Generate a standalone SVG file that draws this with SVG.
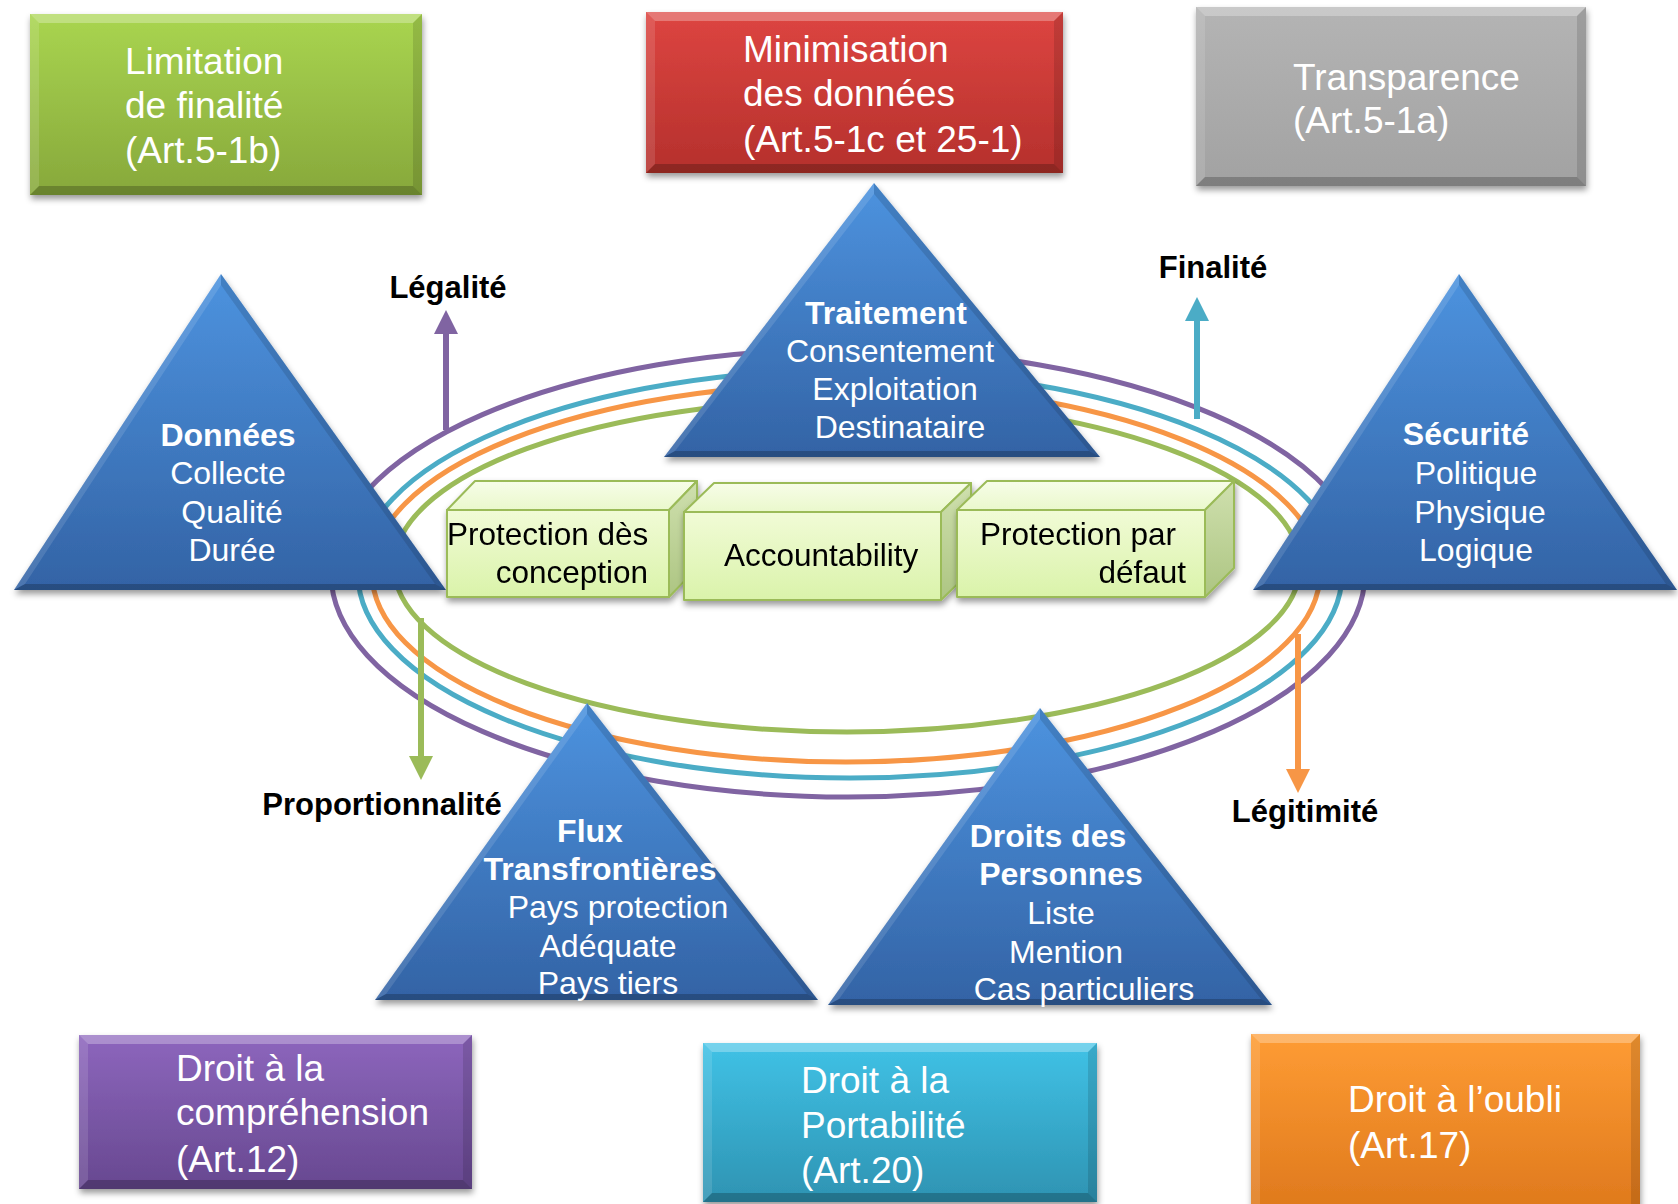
<svg xmlns="http://www.w3.org/2000/svg" width="1678" height="1204" viewBox="0 0 1678 1204">
<style>
  text { font-family: "Liberation Sans", Arial, sans-serif; }
  .bx { font-size: 37px; fill: #ffffff; }
  .tri { font-size: 32px; fill: #ffffff; text-anchor: middle; }
  .b { font-weight: bold; }
  .lbl { font-size: 31px; font-weight: bold; fill: #000000; text-anchor: middle; }
  .cube { font-size: 31.5px; fill: #000000; }
  .ring { fill: none; stroke-width: 5; }
  .hi { fill: #ffffff; fill-opacity: 0.28; }
  .hi2 { fill: #ffffff; fill-opacity: 0.12; }
  .lo { fill: #000000; fill-opacity: 0.22; }
  .lo2 { fill: #000000; fill-opacity: 0.12; }
  .face { stroke: #9BBB59; stroke-width: 2; stroke-linejoin: round; }
</style>
<defs>
  <filter id="sh" x="-10%" y="-10%" width="120%" height="130%">
    <feDropShadow dx="1" dy="4" stdDeviation="3" flood-color="#000" flood-opacity="0.4"/>
  </filter>
  <linearGradient id="gTri" x1="0" y1="0" x2="0" y2="1">
    <stop offset="0" stop-color="#4D93DF"/>
    <stop offset="1" stop-color="#3363A5"/>
  </linearGradient>
  <linearGradient id="gGreen" x1="0" y1="0" x2="0" y2="1">
    <stop offset="0" stop-color="#A9D550"/>
    <stop offset="1" stop-color="#87A83B"/>
  </linearGradient>
  <linearGradient id="gRed" x1="0" y1="0" x2="0" y2="1">
    <stop offset="0" stop-color="#DD4541"/>
    <stop offset="1" stop-color="#B5302C"/>
  </linearGradient>
  <linearGradient id="gGray" x1="0" y1="0" x2="0" y2="1">
    <stop offset="0" stop-color="#B4B4B4"/>
    <stop offset="1" stop-color="#A2A2A2"/>
  </linearGradient>
  <linearGradient id="gPurple" x1="0" y1="0" x2="0" y2="1">
    <stop offset="0" stop-color="#8D66BD"/>
    <stop offset="1" stop-color="#674890"/>
  </linearGradient>
  <linearGradient id="gCyan" x1="0" y1="0" x2="0" y2="1">
    <stop offset="0" stop-color="#40C2E6"/>
    <stop offset="1" stop-color="#2E93B2"/>
  </linearGradient>
  <linearGradient id="gOrange" x1="0" y1="0" x2="0" y2="1">
    <stop offset="0" stop-color="#FE9C34"/>
    <stop offset="1" stop-color="#DE781C"/>
  </linearGradient>
  <linearGradient id="gFront" x1="0" y1="0" x2="0" y2="1">
    <stop offset="0" stop-color="#F1FBD6"/>
    <stop offset="1" stop-color="#DAF3AA"/>
  </linearGradient>
  <linearGradient id="gTop" x1="0" y1="0" x2="0" y2="1">
    <stop offset="0" stop-color="#F7FDE8"/>
    <stop offset="1" stop-color="#EAF8CC"/>
  </linearGradient>
  <linearGradient id="gSide" x1="0" y1="0" x2="0" y2="1">
    <stop offset="0" stop-color="#CFE0AE"/>
    <stop offset="1" stop-color="#ADC582"/>
  </linearGradient>
  <marker id="mPurple" viewBox="0 0 24 24" markerWidth="24" markerHeight="24" refX="0" refY="12" orient="auto" markerUnits="userSpaceOnUse"><path d="M0,0 L24,12 L0,24 Z" fill="#8064A2"/></marker>
  <marker id="mCyan" viewBox="0 0 24 24" markerWidth="24" markerHeight="24" refX="0" refY="12" orient="auto" markerUnits="userSpaceOnUse"><path d="M0,0 L24,12 L0,24 Z" fill="#4BACC6"/></marker>
  <marker id="mGreen" viewBox="0 0 24 24" markerWidth="24" markerHeight="24" refX="0" refY="12" orient="auto" markerUnits="userSpaceOnUse"><path d="M0,0 L24,12 L0,24 Z" fill="#9BBB59"/></marker>
  <marker id="mOrange" viewBox="0 0 24 24" markerWidth="24" markerHeight="24" refX="0" refY="12" orient="auto" markerUnits="userSpaceOnUse"><path d="M0,0 L24,12 L0,24 Z" fill="#F79646"/></marker>
</defs>
<rect x="0" y="0" width="1678" height="1204" fill="#ffffff"/>

<!-- rings and arrows -->
<g id="connectors">
  <ellipse class="ring" cx="848" cy="573" rx="517" ry="224" stroke="#8064A2"/>
  <ellipse class="ring" cx="850" cy="574" rx="492" ry="204" stroke="#4BACC6"/>
  <ellipse class="ring" cx="846" cy="573" rx="474" ry="189" stroke="#F79646"/>
  <ellipse class="ring" cx="847" cy="566" rx="453" ry="166" stroke="#9BBB59"/>
  <line x1="446" y1="430" x2="446" y2="334" stroke="#8064A2" stroke-width="6" marker-end="url(#mPurple)"/>
  <line x1="1197" y1="419" x2="1197" y2="321" stroke="#4BACC6" stroke-width="6" marker-end="url(#mCyan)"/>
  <line x1="421" y1="618" x2="421" y2="756" stroke="#9BBB59" stroke-width="6" marker-end="url(#mGreen)"/>
  <line x1="1298" y1="634" x2="1298" y2="769" stroke="#F79646" stroke-width="6" marker-end="url(#mOrange)"/>
  <text class="lbl" x="448" y="298">Légalité</text>
  <text class="lbl" x="1213" y="278">Finalité</text>
  <text class="lbl" x="382" y="815">Proportionnalité</text>
  <text class="lbl" x="1305" y="822">Légitimité</text>
</g>

<!-- top boxes -->
<g id="limitation">
  <rect x="30" y="14" width="392" height="181" fill="url(#gGreen)" filter="url(#sh)"/>
  <path class="hi" d="M30,14 L422,14 L413,23 L39,23 Z"/>
  <path class="hi2" d="M30,14 L39,23 L39,186 L30,195 Z"/>
  <path class="lo" d="M30,195 L39,186 L413,186 L422,195 Z"/>
  <path class="lo2" d="M422,14 L422,195 L413,186 L413,23 Z"/>
  <text class="bx" x="125" y="74">Limitation</text>
  <text class="bx" x="125" y="118">de finalité</text>
  <text class="bx" x="125" y="163">(Art.5-1b)</text>
</g>
<g id="minimisation">
  <rect x="646" y="12" width="417" height="161" fill="url(#gRed)" filter="url(#sh)"/>
  <path class="hi" d="M646,12 L1063,12 L1054,21 L655,21 Z"/>
  <path class="hi2" d="M646,12 L655,21 L655,164 L646,173 Z"/>
  <path class="lo" d="M646,173 L655,164 L1054,164 L1063,173 Z"/>
  <path class="lo2" d="M1063,12 L1063,173 L1054,164 L1054,21 Z"/>
  <text class="bx" x="743" y="62">Minimisation</text>
  <text class="bx" x="743" y="106">des données</text>
  <text class="bx" x="743" y="152">(Art.5-1c et 25-1)</text>
</g>
<g id="transparence">
  <rect x="1196" y="7" width="390" height="179" fill="url(#gGray)" filter="url(#sh)"/>
  <path class="hi" d="M1196,7 L1586,7 L1577,16 L1205,16 Z"/>
  <path class="hi2" d="M1196,7 L1205,16 L1205,177 L1196,186 Z"/>
  <path class="lo" d="M1196,186 L1205,177 L1577,177 L1586,186 Z"/>
  <path class="lo2" d="M1586,7 L1586,186 L1577,177 L1577,16 Z"/>
  <text class="bx" x="1293" y="90">Transparence</text>
  <text class="bx" x="1293" y="133">(Art.5-1a)</text>
</g>

<!-- bottom boxes -->
<g id="comprehension">
  <rect x="79" y="1035" width="393" height="154" fill="url(#gPurple)" filter="url(#sh)"/>
  <path class="hi" d="M79,1035 L472,1035 L463,1044 L88,1044 Z"/>
  <path class="hi2" d="M79,1035 L88,1044 L88,1180 L79,1189 Z"/>
  <path class="lo" d="M79,1189 L88,1180 L463,1180 L472,1189 Z"/>
  <path class="lo2" d="M472,1035 L472,1189 L463,1180 L463,1044 Z"/>
  <text class="bx" x="176" y="1081">Droit à la</text>
  <text class="bx" x="176" y="1125">compréhension</text>
  <text class="bx" x="176" y="1172">(Art.12)</text>
</g>
<g id="portabilite">
  <rect x="703" y="1043" width="394" height="159" fill="url(#gCyan)" filter="url(#sh)"/>
  <path class="hi" d="M703,1043 L1097,1043 L1088,1052 L712,1052 Z"/>
  <path class="hi2" d="M703,1043 L712,1052 L712,1193 L703,1202 Z"/>
  <path class="lo" d="M703,1202 L712,1193 L1088,1193 L1097,1202 Z"/>
  <path class="lo2" d="M1097,1043 L1097,1202 L1088,1193 L1088,1052 Z"/>
  <text class="bx" x="801" y="1093">Droit à la</text>
  <text class="bx" x="801" y="1138">Portabilité</text>
  <text class="bx" x="801" y="1183">(Art.20)</text>
</g>
<g id="oubli">
  <rect x="1251" y="1034" width="389" height="180" fill="url(#gOrange)" filter="url(#sh)"/>
  <path class="hi" d="M1251,1034 L1640,1034 L1631,1043 L1260,1043 Z"/>
  <path class="hi2" d="M1251,1034 L1260,1043 L1260,1214 L1251,1214 Z"/>
  <path class="lo2" d="M1640,1034 L1640,1214 L1631,1214 L1631,1043 Z"/>
  <text class="bx" x="1348" y="1112">Droit à l’oubli</text>
  <text class="bx" x="1348" y="1158">(Art.17)</text>
</g>

<!-- triangles -->
<g id="donnees">
  <path d="M221,274 L446,590 L14,590 Z" fill="url(#gTri)" filter="url(#sh)"/>
  <path class="hi2" d="M221,274 L14,590 L25,584 L221,285 Z"/>
  <path class="lo2" d="M221,274 L446,590 L435,584 L221,285 Z"/>
  <path class="lo" d="M14,590 L446,590 L435,584 L25,584 Z"/>
  <text class="tri b" x="228" y="446">Données</text>
  <text class="tri" x="228" y="484">Collecte</text>
  <text class="tri" x="232" y="523">Qualité</text>
  <text class="tri" x="232" y="561">Durée</text>
</g>
<g id="traitement">
  <path d="M874,183 L1100,457 L664,457 Z" fill="url(#gTri)" filter="url(#sh)"/>
  <path class="hi2" d="M874,183 L664,457 L675,451 L874,194 Z"/>
  <path class="lo2" d="M874,183 L1100,457 L1089,451 L874,194 Z"/>
  <path class="lo" d="M664,457 L1100,457 L1089,451 L675,451 Z"/>
  <text class="tri b" x="886" y="324">Traitement</text>
  <text class="tri" x="890" y="362">Consentement</text>
  <text class="tri" x="895" y="400">Exploitation</text>
  <text class="tri" x="900" y="438">Destinataire</text>
</g>
<g id="securite">
  <path d="M1459,274 L1677,590 L1253,590 Z" fill="url(#gTri)" filter="url(#sh)"/>
  <path class="hi2" d="M1459,274 L1253,590 L1264,584 L1459,285 Z"/>
  <path class="lo2" d="M1459,274 L1677,590 L1666,584 L1459,285 Z"/>
  <path class="lo" d="M1253,590 L1677,590 L1666,584 L1264,584 Z"/>
  <text class="tri b" x="1466" y="445">Sécurité</text>
  <text class="tri" x="1476" y="484">Politique</text>
  <text class="tri" x="1480" y="523">Physique</text>
  <text class="tri" x="1476" y="561">Logique</text>
</g>
<g id="flux">
  <path d="M587,703 L818,1000 L375,1000 Z" fill="url(#gTri)" filter="url(#sh)"/>
  <path class="hi2" d="M587,703 L375,1000 L386,994 L587,714 Z"/>
  <path class="lo2" d="M587,703 L818,1000 L807,994 L587,714 Z"/>
  <path class="lo" d="M375,1000 L818,1000 L807,994 L386,994 Z"/>
  <text class="tri b" x="590" y="842">Flux</text>
  <text class="tri b" x="600" y="880">Transfrontières</text>
  <text class="tri" x="618" y="918">Pays protection</text>
  <text class="tri" x="608" y="957">Adéquate</text>
  <text class="tri" x="608" y="994">Pays tiers</text>
</g>
<g id="droits">
  <path d="M1040,708 L1272,1005 L828,1005 Z" fill="url(#gTri)" filter="url(#sh)"/>
  <path class="hi2" d="M1040,708 L828,1005 L839,999 L1040,719 Z"/>
  <path class="lo2" d="M1040,708 L1272,1005 L1261,999 L1040,719 Z"/>
  <path class="lo" d="M828,1005 L1272,1005 L1261,999 L839,999 Z"/>
  <text class="tri b" x="1048" y="847">Droits des</text>
  <text class="tri b" x="1061" y="885">Personnes</text>
  <text class="tri" x="1061" y="924">Liste</text>
  <text class="tri" x="1066" y="963">Mention</text>
  <text class="tri" x="1084" y="1000">Cas particuliers</text>
</g>

<!-- 3D boxes -->
<g id="protection-conception" filter="url(#sh)">
  <path class="face" d="M447,510 L475,481 L697,481 L669,510 Z" fill="url(#gTop)"/>
  <path class="face" d="M669,510 L697,481 L697,568 L669,597 Z" fill="url(#gSide)"/>
  <rect class="face" x="447" y="510" width="222" height="87" fill="url(#gFront)"/>
  <text class="cube" x="447" y="545">Protection dès</text>
  <text class="cube" x="648" y="583" text-anchor="end">conception</text>
</g>
<g id="accountability" filter="url(#sh)">
  <path class="face" d="M684,512 L714,483 L971,483 L941,512 Z" fill="url(#gTop)"/>
  <path class="face" d="M941,512 L971,483 L971,571 L941,600 Z" fill="url(#gSide)"/>
  <rect class="face" x="684" y="512" width="257" height="88" fill="url(#gFront)"/>
  <text class="cube" x="724" y="566">Accountability</text>
</g>
<g id="protection-defaut" filter="url(#sh)">
  <path class="face" d="M957,510 L987,481 L1234,481 L1205,510 Z" fill="url(#gTop)"/>
  <path class="face" d="M1205,510 L1234,481 L1234,568 L1205,597 Z" fill="url(#gSide)"/>
  <rect class="face" x="957" y="510" width="248" height="87" fill="url(#gFront)"/>
  <text class="cube" x="980" y="545">Protection par</text>
  <text class="cube" x="1186" y="583" text-anchor="end">défaut</text>
</g>
</svg>
